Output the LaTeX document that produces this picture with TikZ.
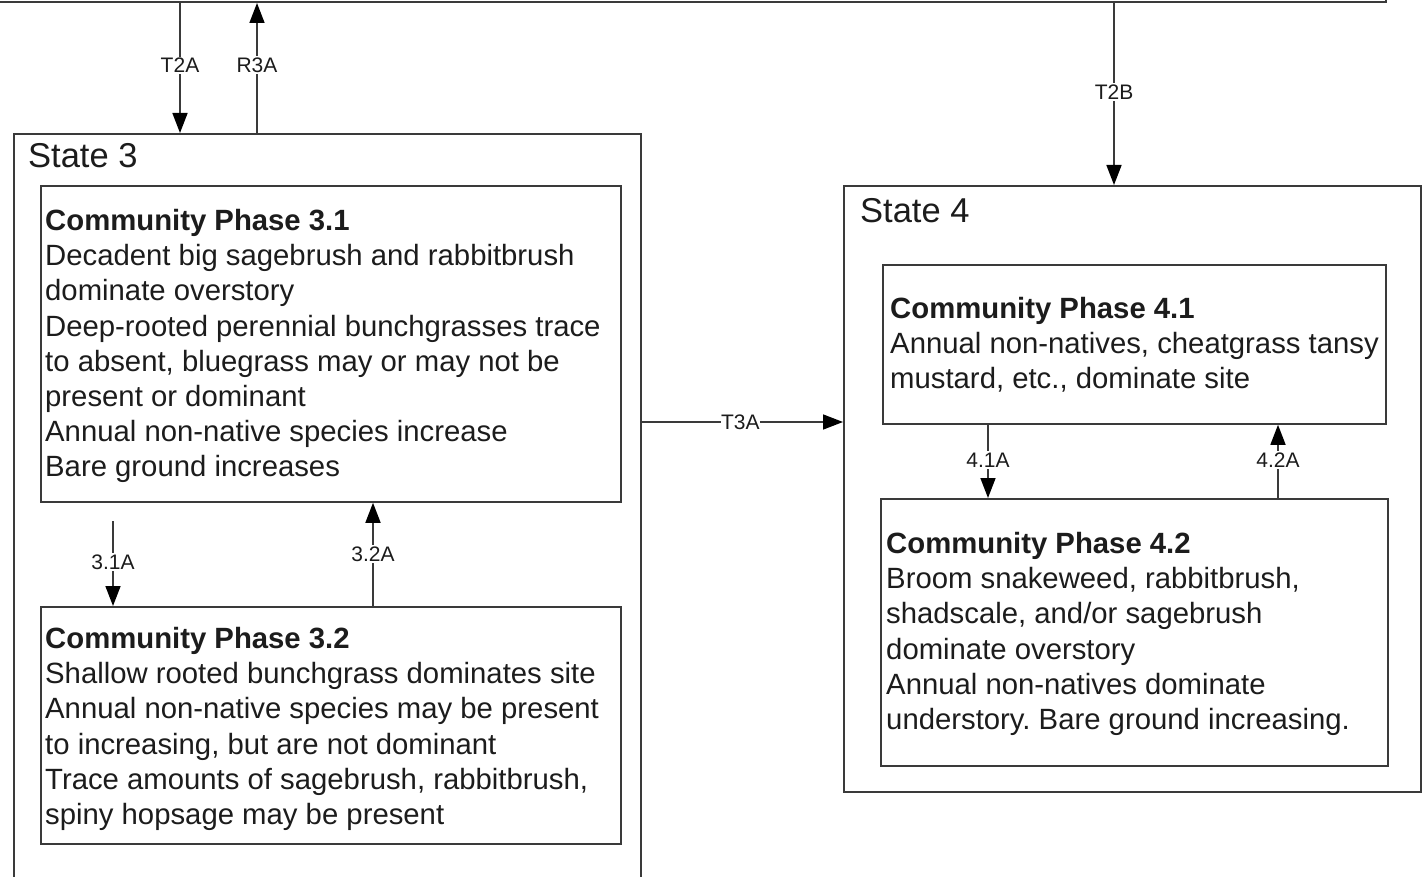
\documentclass[tikz,border=0pt]{standalone}
\usepackage{fontspec}
\setmainfont{Liberation Sans}
\usetikzlibrary{arrows.meta}
\definecolor{linec}{HTML}{3A3A3A}
\definecolor{textc}{HTML}{1C1C1C}
\frenchspacing
\begin{document}
\begin{tikzpicture}[x=1pt,y=-1pt,
  box/.style={draw=linec, line width=1.8pt, inner sep=0pt, anchor=north west},
  txt/.style={anchor=north west, inner sep=0pt, align=left, font=\fontsize{29.3}{35.2}\selectfont, text=textc},
  lbl/.style={fill=white, inner sep=1.5pt, font=\fontsize{21}{24}\selectfont, text=textc},
  arr/.style={draw=linec, line width=1.6pt, -{Triangle[length=20pt,width=15pt,fill=black,color=black]}},
  st/.style={anchor=north west, inner sep=0pt, font=\fontsize{34.5}{40}\selectfont, text=textc}]
\useasboundingbox (0,0) rectangle (1422,877);
\clip (0,0) rectangle (1422,877);
\fill[white] (0,0) rectangle (1422,877);

% state boxes
\node[box, minimum width=1420pt, minimum height=100pt, anchor=south west] (s2) at (-35,3) {};
\node[box, minimum width=627pt, minimum height=800pt] (s3) at (13,133) {};
\node[box, minimum width=577pt, minimum height=606pt] (s4) at (843,185) {};

% phase boxes
\node[box, minimum width=580pt, minimum height=316pt] (p31) at (40,185) {};
\node[box, minimum width=580pt, minimum height=237pt] (p32) at (40,606) {};
\node[box, minimum width=503pt, minimum height=159pt] (p41) at (882,264) {};
\node[box, minimum width=507pt, minimum height=267pt] (p42) at (880,498) {};

% state titles
\node[st] (s3t) at (28,143) {State 3};
\node[st] (s4t) at (860,198) {State 4};

% phase texts
\node[txt] (t31) at (45,209) {\textbf{Community Phase 3.1}\\
Decadent big sagebrush and rabbitbrush\\
dominate overstory\\
Deep-rooted perennial bunchgrasses trace\\
to absent, bluegrass may or may not be\\
present or dominant\\
Annual non-native species increase\\
Bare ground increases};

\node[txt] (t32) at (45,627) {\textbf{Community Phase 3.2}\\
Shallow rooted bunchgrass dominates site\\
Annual non-native species may be present\\
to increasing, but are not dominant\\
Trace amounts of sagebrush, rabbitbrush,\\
spiny hopsage may be present};

\node[txt] (t41) at (890,297) {\textbf{Community Phase 4.1}\\
Annual non-natives, cheatgrass tansy\\
mustard, etc., dominate site};

\node[txt] (t42) at (886,532) {\textbf{Community Phase 4.2}\\
Broom snakeweed, rabbitbrush,\\
shadscale, and/or sagebrush\\
dominate overstory\\
Annual non-natives dominate\\
understory. Bare ground increasing.};

% connectors
\draw[arr] (180,0 |- s2.south) -- (180,0 |- s3.north) node[lbl, pos=0.48] {T2A};
\draw[arr] (257,0 |- s3.north) -- (257,0 |- s2.south) node[lbl, pos=0.52] {R3A};
\draw[arr] (1114,0 |- s2.south) -- (1114,0 |- s4.north) node[lbl, pos=0.49] {T2B};
\draw[arr] (s3.east |- 0,422) -- (s4.west |- 0,422) node[lbl, pos=0.49, inner sep=0.5pt] {T3A};

\coordinate (c31) at (113,521);
\draw[arr] (c31) -- (113,0 |- p32.north) node[lbl, pos=0.48] {3.1A};
\draw[arr] (373,0 |- p32.north) -- (373,0 |- p31.south) node[lbl, pos=0.5] {3.2A};
\draw[arr] (988,0 |- p41.south) -- (988,0 |- p42.north) node[lbl, pos=0.48] {4.1A};
\draw[arr] (1278,0 |- p42.north) -- (1278,0 |- p41.south) node[lbl, pos=0.52] {4.2A};
\end{tikzpicture}
\end{document}
